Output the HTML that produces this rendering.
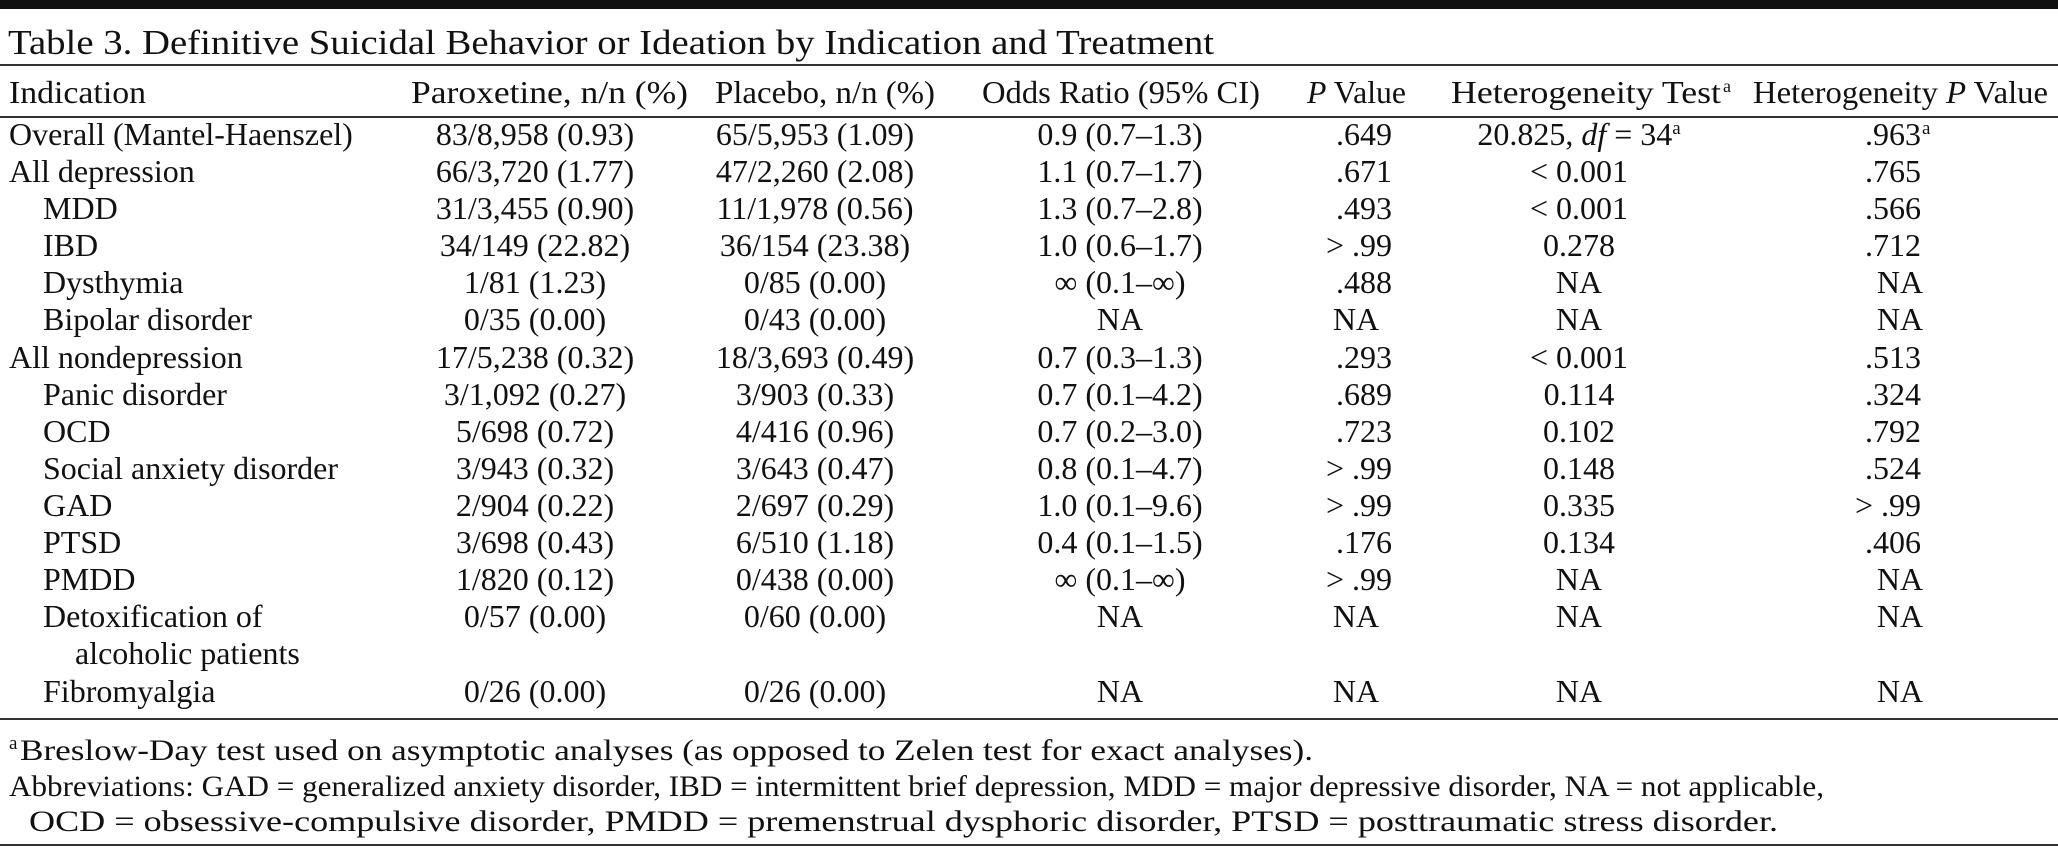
<!DOCTYPE html>
<html><head><meta charset="utf-8"><style>
html,body{margin:0;padding:0;background:#fff;}
svg{display:block;}
text{font-family:"Liberation Serif",serif;fill:#111;font-size:32px;}
.c{text-anchor:middle}.r{text-anchor:end}
</style></head><body>
<svg width="2058" height="850" viewBox="0 0 2058 850" xmlns="http://www.w3.org/2000/svg">
<rect x="0" y="0" width="2058" height="9" fill="#111"/>
<text x="8" y="54" style="font-size:35px" textLength="1206" lengthAdjust="spacingAndGlyphs">Table 3. Definitive Suicidal Behavior or Ideation by Indication and Treatment</text>
<rect x="0" y="64" width="2058" height="2" fill="#333"/>
<g>
<text x="9" y="103" textLength="137" lengthAdjust="spacingAndGlyphs">Indication</text>
<text x="411" y="103" textLength="277" lengthAdjust="spacingAndGlyphs">Paroxetine, n/n (%)</text>
<text x="715" y="103" textLength="220" lengthAdjust="spacingAndGlyphs">Placebo, n/n (%)</text>
<text x="982" y="103" textLength="278" lengthAdjust="spacingAndGlyphs">Odds Ratio (95% CI)</text>
<text x="1307" y="103" textLength="99" lengthAdjust="spacingAndGlyphs"><tspan font-style="italic">P</tspan> Value</text>
<text x="1451" y="103" textLength="270" lengthAdjust="spacingAndGlyphs">Heterogeneity Test</text><text x="1723" y="92" style="font-size:18px">a</text>
<text x="1753" y="103" textLength="295" lengthAdjust="spacingAndGlyphs">Heterogeneity <tspan font-style="italic">P</tspan> Value</text>
</g>
<rect x="0" y="116" width="2058" height="2" fill="#333"/>
<g>
<text x="9" y="145">Overall (Mantel-Haenszel)</text>
<text x="9" y="182">All depression</text>
<text x="43" y="219">MDD</text>
<text x="43" y="256">IBD</text>
<text x="43" y="293">Dysthymia</text>
<text x="43" y="330">Bipolar disorder</text>
<text x="9" y="368">All nondepression</text>
<text x="43" y="405">Panic disorder</text>
<text x="43" y="442">OCD</text>
<text x="43" y="479">Social anxiety disorder</text>
<text x="43" y="516">GAD</text>
<text x="43" y="553">PTSD</text>
<text x="43" y="590">PMDD</text>
<text x="43" y="627">Detoxification of</text>
<text x="75" y="664">alcoholic patients</text>
<text x="43" y="702">Fibromyalgia</text>
</g>
<g>
<text class="c" x="535" y="145">83/8,958 (0.93)</text>
<text class="c" x="535" y="182">66/3,720 (1.77)</text>
<text class="c" x="535" y="219">31/3,455 (0.90)</text>
<text class="c" x="535" y="256">34/149 (22.82)</text>
<text class="c" x="535" y="293">1/81 (1.23)</text>
<text class="c" x="535" y="330">0/35 (0.00)</text>
<text class="c" x="535" y="368">17/5,238 (0.32)</text>
<text class="c" x="535" y="405">3/1,092 (0.27)</text>
<text class="c" x="535" y="442">5/698 (0.72)</text>
<text class="c" x="535" y="479">3/943 (0.32)</text>
<text class="c" x="535" y="516">2/904 (0.22)</text>
<text class="c" x="535" y="553">3/698 (0.43)</text>
<text class="c" x="535" y="590">1/820 (0.12)</text>
<text class="c" x="535" y="627">0/57 (0.00)</text>
<text class="c" x="535" y="702">0/26 (0.00)</text>

<text class="c" x="815" y="145">65/5,953 (1.09)</text>
<text class="c" x="815" y="182">47/2,260 (2.08)</text>
<text class="c" x="815" y="219">11/1,978 (0.56)</text>
<text class="c" x="815" y="256">36/154 (23.38)</text>
<text class="c" x="815" y="293">0/85 (0.00)</text>
<text class="c" x="815" y="330">0/43 (0.00)</text>
<text class="c" x="815" y="368">18/3,693 (0.49)</text>
<text class="c" x="815" y="405">3/903 (0.33)</text>
<text class="c" x="815" y="442">4/416 (0.96)</text>
<text class="c" x="815" y="479">3/643 (0.47)</text>
<text class="c" x="815" y="516">2/697 (0.29)</text>
<text class="c" x="815" y="553">6/510 (1.18)</text>
<text class="c" x="815" y="590">0/438 (0.00)</text>
<text class="c" x="815" y="627">0/60 (0.00)</text>
<text class="c" x="815" y="702">0/26 (0.00)</text>

<text class="c" x="1120" y="145">0.9 (0.7–1.3)</text>
<text class="c" x="1120" y="182">1.1 (0.7–1.7)</text>
<text class="c" x="1120" y="219">1.3 (0.7–2.8)</text>
<text class="c" x="1120" y="256">1.0 (0.6–1.7)</text>
<text class="c" x="1120" y="293">∞ (0.1–∞)</text>
<text class="c" x="1120" y="330">NA</text>
<text class="c" x="1120" y="368">0.7 (0.3–1.3)</text>
<text class="c" x="1120" y="405">0.7 (0.1–4.2)</text>
<text class="c" x="1120" y="442">0.7 (0.2–3.0)</text>
<text class="c" x="1120" y="479">0.8 (0.1–4.7)</text>
<text class="c" x="1120" y="516">1.0 (0.1–9.6)</text>
<text class="c" x="1120" y="553">0.4 (0.1–1.5)</text>
<text class="c" x="1120" y="590">∞ (0.1–∞)</text>
<text class="c" x="1120" y="627">NA</text>
<text class="c" x="1120" y="702">NA</text>

<text class="c" x="1579" y="145">20.825, <tspan font-style="italic">df</tspan> = 34<tspan dy="-11" style="font-size:19px">a</tspan></text>
<text class="c" x="1579" y="182">&lt; 0.001</text>
<text class="c" x="1579" y="219">&lt; 0.001</text>
<text class="c" x="1579" y="256">0.278</text>
<text class="c" x="1579" y="293">NA</text>
<text class="c" x="1579" y="330">NA</text>
<text class="c" x="1579" y="368">&lt; 0.001</text>
<text class="c" x="1579" y="405">0.114</text>
<text class="c" x="1579" y="442">0.102</text>
<text class="c" x="1579" y="479">0.148</text>
<text class="c" x="1579" y="516">0.335</text>
<text class="c" x="1579" y="553">0.134</text>
<text class="c" x="1579" y="590">NA</text>
<text class="c" x="1579" y="627">NA</text>
<text class="c" x="1579" y="702">NA</text>
</g>
<g>
<text class="r" x="1392" y="145">.649</text>
<text class="r" x="1392" y="182">.671</text>
<text class="r" x="1392" y="219">.493</text>
<text class="r" x="1392" y="256">&gt; .99</text>
<text class="r" x="1392" y="293">.488</text>
<text class="c" x="1356" y="330">NA</text>
<text class="r" x="1392" y="368">.293</text>
<text class="r" x="1392" y="405">.689</text>
<text class="r" x="1392" y="442">.723</text>
<text class="r" x="1392" y="479">&gt; .99</text>
<text class="r" x="1392" y="516">&gt; .99</text>
<text class="r" x="1392" y="553">.176</text>
<text class="r" x="1392" y="590">&gt; .99</text>
<text class="c" x="1356" y="627">NA</text>
<text class="c" x="1356" y="702">NA</text>

<text class="r" x="1921" y="145">.963</text><text x="1922" y="134" style="font-size:19px">a</text>
<text class="r" x="1921" y="182">.765</text>
<text class="r" x="1921" y="219">.566</text>
<text class="r" x="1921" y="256">.712</text>
<text class="c" x="1900" y="293">NA</text>
<text class="c" x="1900" y="330">NA</text>
<text class="r" x="1921" y="368">.513</text>
<text class="r" x="1921" y="405">.324</text>
<text class="r" x="1921" y="442">.792</text>
<text class="r" x="1921" y="479">.524</text>
<text class="r" x="1921" y="516">&gt; .99</text>
<text class="r" x="1921" y="553">.406</text>
<text class="c" x="1900" y="590">NA</text>
<text class="c" x="1900" y="627">NA</text>
<text class="c" x="1900" y="702">NA</text>
</g>
<rect x="0" y="718" width="2058" height="2" fill="#333"/>
<text x="9" y="749" style="font-size:19px">a</text>
<text x="20" y="760" style="font-size:30px" textLength="1293" lengthAdjust="spacingAndGlyphs">Breslow-Day test used on asymptotic analyses (as opposed to Zelen test for exact analyses).</text>
<text x="9" y="796" style="font-size:30px" textLength="1815" lengthAdjust="spacingAndGlyphs">Abbreviations: GAD = generalized anxiety disorder, IBD = intermittent brief depression, MDD = major depressive disorder, NA = not applicable,</text>
<text x="29" y="831" style="font-size:30px" textLength="1749" lengthAdjust="spacingAndGlyphs">OCD = obsessive-compulsive disorder, PMDD = premenstrual dysphoric disorder, PTSD = posttraumatic stress disorder.</text>
<rect x="0" y="844" width="2058" height="2" fill="#333"/>
</svg>
</body></html>
